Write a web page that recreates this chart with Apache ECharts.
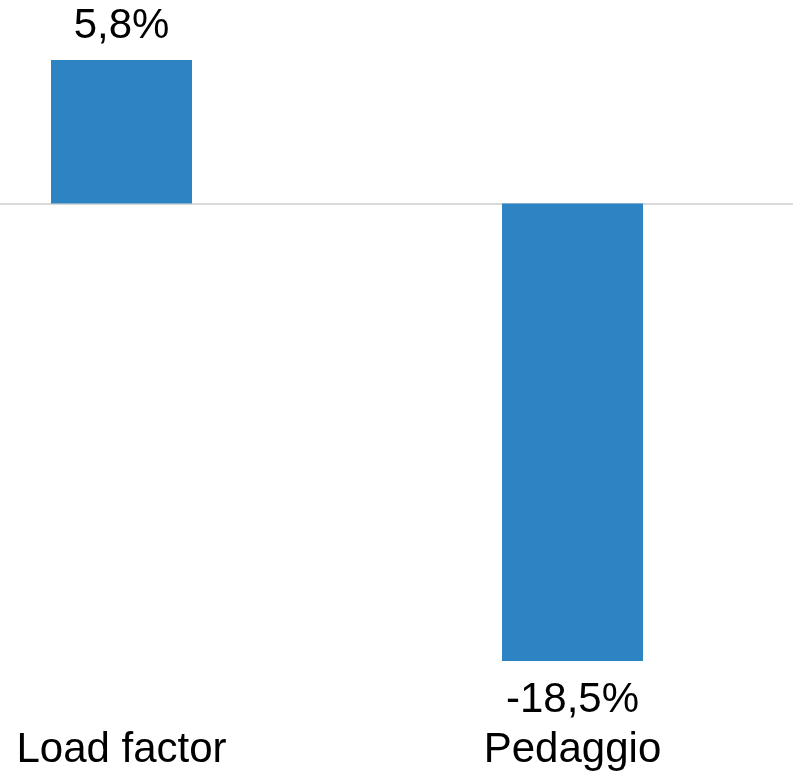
<!DOCTYPE html>
<html>
<head>
<meta charset="utf-8">
<script src="https://cdn.jsdelivr.net/npm/echarts@6/dist/echarts.min.js"></script>
<style>
html,body{margin:0;padding:0;background:#fff;}
#chart{width:793px;height:774px;}
</style>
</head>
<body>
<div id="chart"></div>
<script>
const categories = ["Load factor", "Pedaggio"];
const values = [5.8, -18.5];

const chart = echarts.init(document.getElementById('chart'), null, {renderer: 'canvas'});
const font = '"Liberation Sans", Arial, sans-serif';
chart.setOption({
  animation: false,
  backgroundColor: '#ffffff',
  grid: {left: -104, top: 55, width: 902, height: 643, containLabel: false, outerBoundsMode: 'none'},
  xAxis: [
    {
      type: 'category',
      data: categories,
      position: 'bottom',
      axisLine: {show: false, onZero: false},
      axisTick: {show: false},
      axisLabel: {margin: 31, fontSize: 42, lineHeight: 42, color: '#000000', fontFamily: font}
    },
    {
      type: 'category',
      data: categories,
      position: 'bottom',
      axisLine: {show: true, onZero: true, lineStyle: {color: '#d9d9d9', width: 2}},
      axisTick: {show: false},
      axisLabel: {show: false}
    }
  ],
  yAxis: {
    type: 'value',
    min: -20,
    max: 6,
    show: false,
    splitLine: {show: false}
  },
  series: [{
    type: 'bar',
    xAxisIndex: 0,
    data: values.map(v => ({
      value: v,
      label: v < 0 ? {position: 'bottom', distance: 19} : {position: 'top', distance: 13}
    })),
    barWidth: 141,
    itemStyle: {color: '#2E83C3'},
    label: {
      show: true,
      fontSize: 42,
      lineHeight: 42,
      fontFamily: font,
      color: '#000000',
      formatter: p => p.value.toFixed(1).replace('.', ',') + '%'
    }
  }]
});
</script>
</body>
</html>
